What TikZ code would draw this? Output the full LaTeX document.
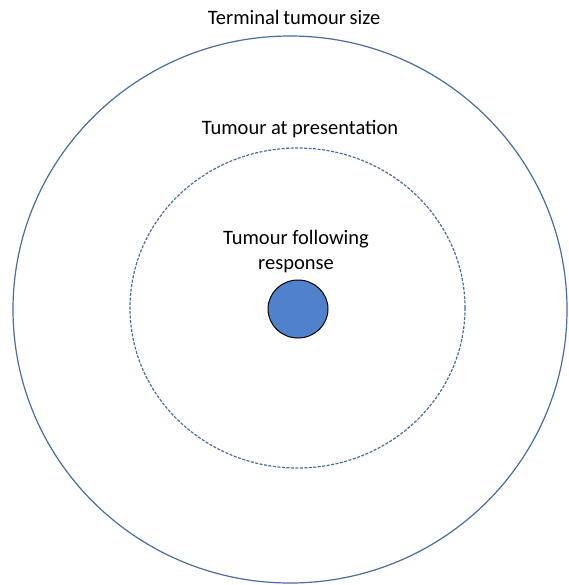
\documentclass[tikz,border=0pt]{standalone}
\usepackage{fontspec}
\setmainfont{Carlito}
\definecolor{ringblue}{HTML}{4A6C9F}
\definecolor{fillblue}{HTML}{4F81CC}
\tikzset{
  ring/.style={draw=ringblue, line width=1.2pt},
  dashring/.style={draw=ringblue, line width=1.2pt, dash pattern=on 3pt off 1.5pt},
  core/.style={draw=black, fill=fillblue, line width=1pt},
  lbl/.style={font=\fontsize{20.5}{25}\selectfont, align=center, inner sep=0pt}
}
\begin{document}
\begin{tikzpicture}[x=1pt,y=-1pt]
\useasboundingbox (0,0) rectangle (568,585);
\path[ring] (290,309.5) ellipse [x radius=277, y radius=273.5];
\path[dashring] (297.5,308) ellipse [x radius=167.5, y radius=160];
\path[core] (298,309) ellipse [x radius=30, y radius=29];
\coordinate (c) at (298,309);
\node[lbl] (t1) at (294,17) {Terminal\kern-1pt\ tumour\kern-1pt\ size};
\node[lbl] (t2) at (300,129) {Tumour at presentation};
\node[lbl] (t3) at (296,252) {Tumour following\\response};
\end{tikzpicture}
\end{document}
